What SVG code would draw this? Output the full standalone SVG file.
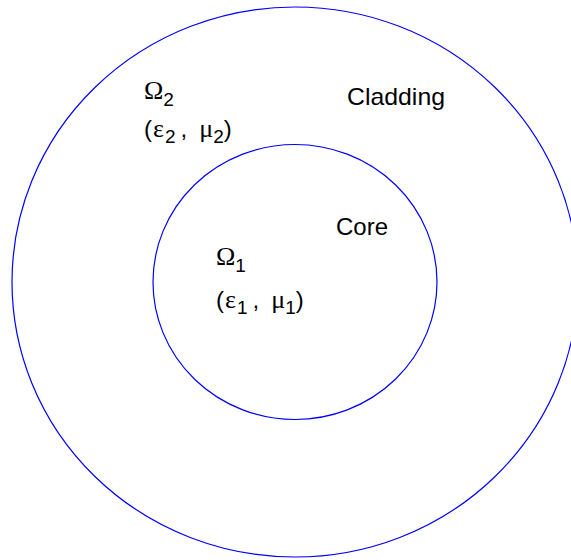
<svg xmlns="http://www.w3.org/2000/svg" width="571" height="560" viewBox="0 0 571 560">
<style>
.ring{fill:none;stroke:#0000ff;stroke-width:1.2}
.lbl{font-family:"Liberation Sans",Arial,sans-serif;font-size:24px;fill:#000}
.sym{font-family:"Liberation Serif","Times New Roman",serif;font-size:26px}
.sub{font-size:19px}
</style>
<rect width="571" height="560" fill="#fff"/>
<g id="cladding">
<ellipse class="ring" cx="295" cy="282" rx="283" ry="275"/>
<text class="lbl" x="347" y="105" textLength="98" lengthAdjust="spacingAndGlyphs">Cladding</text>
<text class="lbl" x="144" y="99"><tspan class="sym">Ω</tspan><tspan class="sub" dy="7">2</tspan></text>
<text class="lbl" x="144" y="137">(<tspan class="sym" dx="1">ε</tspan><tspan class="sub" dy="6" dx="1">2</tspan><tspan dy="-6" dx="5">,</tspan><tspan class="sym" dx="12">μ</tspan><tspan class="sub" dy="6">2</tspan><tspan dy="-6">)</tspan></text>
</g>
<g id="core">
<ellipse class="ring" cx="295" cy="282" rx="142" ry="137.5"/>
<text class="lbl" x="336" y="235">Core</text>
<text class="lbl" x="216" y="265"><tspan class="sym">Ω</tspan><tspan class="sub" dy="7">1</tspan></text>
<text class="lbl" x="216" y="308">(<tspan class="sym" dx="1">ε</tspan><tspan class="sub" dy="6" dx="1">1</tspan><tspan dy="-6" dx="5">,</tspan><tspan class="sym" dx="12">μ</tspan><tspan class="sub" dy="6">1</tspan><tspan dy="-6">)</tspan></text>
</g>
<g id="connectors"></g>
</svg>
